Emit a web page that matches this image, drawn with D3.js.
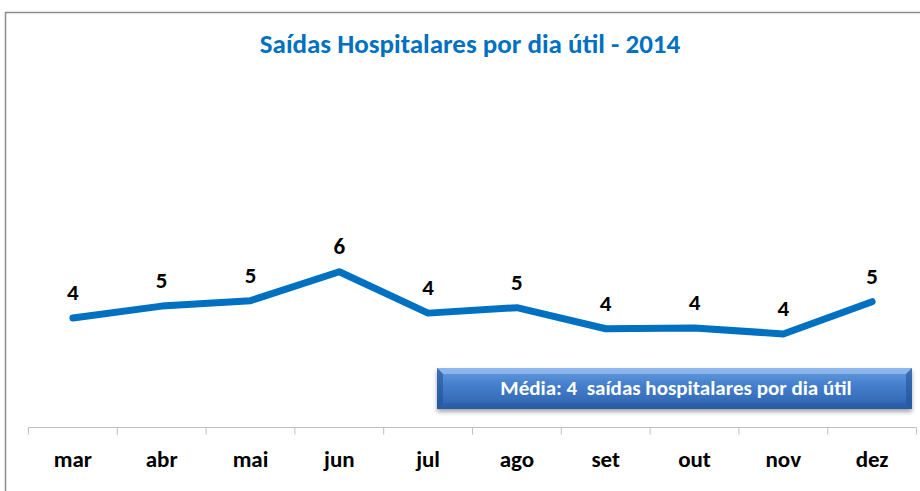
<!DOCTYPE html>
<html>
<head>
<meta charset="utf-8">
<script src="https://cdn.jsdelivr.net/npm/d3@7"></script>
<style>
  body { margin: 0; background: #fff; }
  text { font-family: Calibri, Carlito, "Noto Sans", sans-serif; }
</style>
</head>
<body>
<svg id="chart" width="920" height="491"></svg>
<script>
const months = ['mar', 'abr', 'mai', 'jun', 'jul', 'ago', 'set', 'out', 'nov', 'dez'];
const saidas = [4.19, 4.65, 4.86, 5.97, 4.38, 4.59, 3.78, 3.81, 3.58, 4.82];
const title = 'Saídas Hospitalares por dia útil - 2014';
const mediaLabel = 'Média: 4  saídas hospitalares por dia útil';

const svg = d3.select('#chart');

// outer frame (runs past the right/bottom edge of the picture)
svg.append('rect')
    .attr('x', 5.5).attr('y', 12.5)
    .attr('width', 1000).attr('height', 1000)
    .attr('fill', 'none')
    .attr('stroke', '#8c8c8c')
    .attr('stroke-width', 1.5);

svg.append('text')
    .attr('x', 470).attr('y', 53)
    .attr('text-anchor', 'middle')
    .attr('fill', '#0070C0')
    .attr('font-weight', 'bold')
    .attr('font-size', 27)
    .text(title);

const xScale = d3.scaleBand()
    .domain(months)
    .range([28.5, 916.5]);

const yScale = d3.scaleLinear()
    .domain([0, 14])
    .range([427, 63]);

// category axis
const axis = svg.append('g')
    .attr('transform', 'translate(0, 427.5)');
axis.append('line')
    .attr('x1', xScale.range()[0]).attr('x2', xScale.range()[1])
    .attr('stroke', '#bfbfbf');
axis.selectAll('.tick')
    .data(months.concat(['end']))
    .enter()
    .append('line')
    .attr('x1', (d, i) => xScale.range()[0] + i * xScale.step())
    .attr('x2', (d, i) => xScale.range()[0] + i * xScale.step())
    .attr('y1', 0).attr('y2', 7)
    .attr('stroke', '#bfbfbf');
axis.selectAll('.label')
    .data(months)
    .enter()
    .append('text')
    .attr('x', d => xScale(d) + xScale.bandwidth() / 2)
    .attr('y', 39)
    .attr('text-anchor', 'middle')
    .attr('font-weight', 'bold')
    .attr('font-size', 23)
    .attr('fill', '#000')
    .text(d => d);

// media box with bevel
const defs = svg.append('defs');
const grad = defs.append('linearGradient')
    .attr('id', 'boxGrad')
    .attr('x1', 0).attr('y1', 0).attr('x2', 0).attr('y2', 1);
grad.append('stop').attr('offset', '0%').attr('stop-color', '#6a9de0');
grad.append('stop').attr('offset', '40%').attr('stop-color', '#4580cc');
grad.append('stop').attr('offset', '100%').attr('stop-color', '#2d62ae');
const shadow = defs.append('filter').attr('id', 'shadow')
    .attr('x', '-5%').attr('y', '-20%').attr('width', '110%').attr('height', '160%');
shadow.append('feDropShadow')
    .attr('dx', 0).attr('dy', 3).attr('stdDeviation', 2)
    .attr('flood-color', '#000').attr('flood-opacity', 0.35);

const bx = 437, by = 368, bw = 475, bh = 41, bev = 6;
const box = svg.append('g');
box.append('rect')
    .attr('x', bx).attr('y', by)
    .attr('width', bw).attr('height', bh)
    .attr('fill', 'url(#boxGrad)')
    .attr('filter', 'url(#shadow)');
// top highlight
box.append('path')
    .attr('d', `M${bx},${by}H${bx + bw}L${bx + bw - bev},${by + bev}H${bx + bev}Z`)
    .attr('fill', '#9cc2f2').attr('opacity', 0.7);
// left / right dark sides
box.append('path')
    .attr('d', `M${bx},${by}L${bx + bev},${by + bev}V${by + bh - bev}L${bx},${by + bh}Z`)
    .attr('fill', '#1f4f94').attr('opacity', 0.55);
box.append('path')
    .attr('d', `M${bx + bw},${by}L${bx + bw - bev},${by + bev}V${by + bh - bev}L${bx + bw},${by + bh}Z`)
    .attr('fill', '#1f4f94').attr('opacity', 0.55);
// bottom shade
box.append('path')
    .attr('d', `M${bx},${by + bh}L${bx + bev},${by + bh - bev}H${bx + bw - bev}L${bx + bw},${by + bh}Z`)
    .attr('fill', '#1f4f94').attr('opacity', 0.35);
box.append('text')
    .attr('x', 676).attr('y', 395)
    .attr('text-anchor', 'middle')
    .attr('fill', '#fff')
    .attr('font-weight', 'bold')
    .attr('font-size', 21)
    .attr('xml:space', 'preserve')
    .style('white-space', 'pre')
    .text(mediaLabel);

// the line
const line = d3.line()
    .x((d, i) => xScale(months[i]) + xScale.bandwidth() / 2)
    .y(d => yScale(d));

svg.append('path')
    .datum(saidas)
    .attr('d', line)
    .attr('fill', 'none')
    .attr('stroke', '#0070C0')
    .attr('stroke-width', 7)
    .attr('stroke-linecap', 'round')
    .attr('stroke-linejoin', 'round');

svg.selectAll('.value')
    .data(saidas)
    .enter()
    .append('text')
    .attr('class', 'value')
    .attr('x', (d, i) => xScale(months[i]) + xScale.bandwidth() / 2)
    .attr('y', d => yScale(d) - 18)
    .attr('text-anchor', 'middle')
    .attr('font-weight', 'bold')
    .attr('font-size', 23)
    .attr('fill', '#000')
    .text(d => d3.format('.0f')(d));
</script>
</body>
</html>
